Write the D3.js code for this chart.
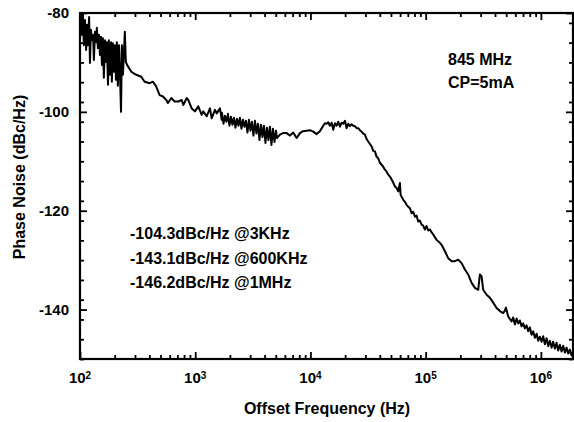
<!DOCTYPE html>
<html>
<head>
<meta charset="utf-8">
<script src="https://cdn.jsdelivr.net/npm/d3@7"></script>
<style>
  body { margin: 0; background: #fff; }
  text { font-family: "Liberation Sans", Arial, sans-serif; font-weight: bold; fill: #000; }
</style>
</head>
<body>
<script>
// offset frequency (Hz) and phase noise (dBc/Hz)
var freqHz = [
  100,102,104,106,108,110.5,113,115,117,120,122,124.5,127,130,132,135,138,140,143,146,
  149,152,155,158,161,165,168,171,175,178,182,186,189,193,197,201,205,209,213,218,
  222,227,231,236,241,245,250,
  256,279,308,340,364,402,430,459,491,525,561,580,620,663,713,763,788,843,870,932,
  995,1063,1138,1174,1257,1343,1389,1484,1535,1640,1697,
  1707,1759,1812,1867,1924,1983,2043,2105,2169,2235,2303,2373,2445,2519,2596,2675,
  2756,2840,2926,3015,3107,3201,3299,3400,3503,3610,3720,3833,3949,4070,4194,4322,
  4453,4588,4728,4872,5022,5122,
  5437,5773,6218,6640,7091,7592,8108,8607,9268,9901,10576,11319,12090,12916,13362,
  13822,14270,14764,15273,15770,16317,16879,17428,18030,18651,19257,19925,20613,21283,
  22018,22778,23520,24331,25171,25990,26888,
  27817,28722,29714,30739,31739,32835,33967,35072,36283,37536,38758,40091,41476,42826,
  44306,45836,47325,48960,50652,52300,54110,55975,57795,59780,60630,63880,66070,68350,
  70580,73010,75520,77980,80660,83450,86170,89150,92220,95210,98520,101920,105220,
  108870,112610,
  116280,124450,132930,137530,146890,156930,168000,179430,191610,205050,219040,233930,
  250400,267540,285770,295630,305830,315750,338040,360990,385620,412630,440900,470910,
  487210,497000,520400,556900,575000,594900,615400,635400,657400,680100,702200,726500,
  751500,775900,802700,830400,857400,887000,917700,947600,980200,1014000,
  1047000,1083000,1121000,1157000,1197000,1238000,1278000,1323000,1368000,1413000,
  1462000,1512000,1561000,1615000,1671000,1726000,1785000,1847000,1895000
];
var noiseDbc = [
  -85.5,-80,-84.4,-80,-86.5,-81.4,-87.5,-82.4,-86.5,-80.8,-90.1,-83.4,-85.5,-84.4,-89.5,-83.8,-85.9,-83.0,-87.1,-84.4,
  -88.5,-84.8,-90.5,-85.1,-93.1,-85.5,-89.9,-85.9,-94.5,-85.5,-92.5,-85.9,-93.9,-86.1,-91.9,-86.5,-93.5,-85.9,-94.7,-86.5,
  -91.9,-100,-86.5,-92.5,-87.5,-83.8,-89.9,
  -90.5,-91.9,-92.5,-92.9,-93.9,-94.2,-93.9,-94.9,-96.6,-96.9,-97.6,-98.2,-97.2,-97.9,-97.9,-97.6,-98.6,-97.2,-97.6,-99.3,
  -99.9,-98.9,-100.6,-99.9,-100.9,-99.3,-101.3,-99.6,-100.3,-99.3,-101.6,
  -100.2,-102.4,-100.8,-102.0,-100.4,-102.8,-101.0,-102.6,-101.2,-103.2,-101.4,-102.8,-101.2,-103.4,-101.6,-103.0,
  -101.8,-104.2,-101.6,-103.8,-102.0,-104.8,-101.8,-104.4,-102.4,-105.7,-102.6,-105.1,-102.8,-106.3,-103.2,-105.7,
  -103.0,-106.7,-103.4,-106.1,-103.8,-105.3,
  -104.6,-104.3,-104.3,-104.8,-104.2,-105.3,-104.3,-103.9,-103.8,-103.7,-104.0,-104.5,-103.9,-102.8,-102.3,
  -102.4,-102.1,-102.8,-102.2,-103.6,-102.3,-102.8,-102.0,-103.0,-102.2,-102.4,-101.8,-103.3,-102.4,
  -102.9,-102.5,-102.8,-102.9,-103.3,-103.3,-103.7,
  -104.0,-104.4,-104.6,-105.5,-106.0,-106.5,-107.0,-107.9,-108.0,-109.1,-109.4,-110.3,-110.7,-111.1,
  -111.7,-112.1,-112.7,-113.1,-113.7,-114.3,-115.1,-115.4,-116.1,-114.4,-116.8,-117.8,-118.2,-118.8,
  -119.2,-119.5,-120.5,-120.2,-121.2,-121.0,-122.2,-122.0,-122.8,-123.0,-123.8,-123.1,-124.0,
  -123.8,-124.4,
  -124.8,-125.9,-126.5,-126.9,-128.2,-129.6,-130.2,-130.2,-129.9,-130.6,-131.9,-132.9,
  -134.6,-135.6,-136.0,-132.9,-133.3,-136.0,-137.0,-137.6,-138.6,-139.7,-140.3,-140.7,
  -140.2,-139.6,-141.4,-142.4,-141.6,-143.0,-141.8,-142.8,-142.2,-143.4,-142.8,-143.8,
  -143.2,-144.4,-143.6,-145.1,-144.4,-145.7,-144.9,-146.3,-145.5,-146.5,
  -145.4,-147.0,-145.8,-147.4,-146.3,-147.7,-146.5,-147.9,-146.7,-148.3,
  -147.1,-148.5,-147.3,-148.7,-147.7,-148.9,-148.1,-149.3,-148.7
];

var xDomain = [100, 1.9e6];
var yDomain = [-150, -80];
var xDecades = [2, 3, 4, 5, 6];
var yMajor = [-80, -100, -120, -140];
var yMinorStep = 4;

var noteTop = ["845 MHz", "CP=5mA"];
var noteLeft = ["-104.3dBc/Hz @3KHz", "-143.1dBc/Hz @600KHz", "-146.2dBc/Hz @1MHz"];

var margin = {top: 13, right: 1, bottom: 63, left: 80},
    width = 574 - margin.left - margin.right,
    height = 422 - margin.top - margin.bottom;

var svg = d3.select("body").append("svg")
    .attr("width", 574)
    .attr("height", 422);

var g = svg.append("g")
    .attr("transform", "translate(" + margin.left + "," + margin.top + ")");

var x = d3.scaleLog().domain(xDomain).range([0, width]);
var y = d3.scaleLinear().domain(yDomain).range([height, 0]);

// tick values
var xMinor = [];
for (var p = 2; p <= 6; p++) {
  for (var m = 2; m <= 9; m++) {
    var v = m * Math.pow(10, p);
    if (v <= xDomain[1]) xMinor.push(v);
  }
}
var xMajorVals = xDecades.map(function(d) { return Math.pow(10, d); });
var yMinor = d3.range(yDomain[0], yDomain[1] + 0.1, yMinorStep)
    .filter(function(d) { return yMajor.indexOf(d) < 0; });

function styleAxis(sel) {
  sel.select(".domain").remove();
  sel.selectAll("line").attr("stroke", "#000").attr("stroke-width", 1.8);
  sel.selectAll("text").remove();
}

// inward ticks on all four sides
g.append("g").attr("transform", "translate(0," + height + ")")
  .call(d3.axisBottom(x).tickValues(xMajorVals).tickSize(-7)).call(styleAxis);
g.append("g").attr("transform", "translate(0," + height + ")")
  .call(d3.axisBottom(x).tickValues(xMinor).tickSize(-4)).call(styleAxis);
g.append("g")
  .call(d3.axisTop(x).tickValues(xMajorVals).tickSize(-7)).call(styleAxis);
g.append("g")
  .call(d3.axisTop(x).tickValues(xMinor).tickSize(-4)).call(styleAxis);
g.append("g")
  .call(d3.axisLeft(y).tickValues(yMajor).tickSize(-7)).call(styleAxis);
g.append("g")
  .call(d3.axisLeft(y).tickValues(yMinor).tickSize(-4)).call(styleAxis);
g.append("g").attr("transform", "translate(" + width + ",0)")
  .call(d3.axisRight(y).tickValues(yMajor).tickSize(-7)).call(styleAxis);
g.append("g").attr("transform", "translate(" + width + ",0)")
  .call(d3.axisRight(y).tickValues(yMinor).tickSize(-4)).call(styleAxis);

// frame
g.append("rect")
  .attr("width", width).attr("height", height)
  .attr("fill", "none").attr("stroke", "#000").attr("stroke-width", 2.2);

// curve
g.append("clipPath").attr("id", "clip")
  .append("rect").attr("width", width).attr("height", height);

var line = d3.line()
  .x(function(d, i) { return x(freqHz[i]); })
  .y(function(d) { return y(d); });

g.append("path")
  .datum(noiseDbc)
  .attr("clip-path", "url(#clip)")
  .attr("fill", "none")
  .attr("stroke", "#000")
  .attr("stroke-width", 2)
  .attr("stroke-linejoin", "round")
  .attr("d", line);

// tick labels
g.selectAll(".ylab").data(yMajor).enter().append("text")
  .attr("class", "ylab")
  .attr("x", -11).attr("y", function(d) { return y(d); })
  .attr("dy", "0.36em")
  .attr("text-anchor", "end")
  .style("font-size", "15px")
  .text(function(d) { return d; });

var xl = g.selectAll(".xlab").data(xDecades).enter().append("text")
  .attr("class", "xlab")
  .attr("x", function(d) { return x(Math.pow(10, d)); })
  .attr("y", height + 24)
  .attr("text-anchor", "middle")
  .style("font-size", "15px");
xl.append("tspan").text("10");
xl.append("tspan").attr("dy", "-0.45em").style("font-size", "10px")
  .text(function(d) { return d; });

// axis titles
svg.append("text")
  .attr("x", 327).attr("y", 414)
  .attr("text-anchor", "middle")
  .style("font-size", "16px")
  .text("Offset Frequency (Hz)");

svg.append("text")
  .attr("transform", "translate(25,177) rotate(-90)")
  .attr("text-anchor", "middle")
  .style("font-size", "16px")
  .text("Phase Noise (dBc/Hz)");

// notes
svg.selectAll(".nt").data(noteTop).enter().append("text")
  .attr("class", "nt")
  .attr("x", 448).attr("y", function(d, i) { return 65 + i * 23; })
  .style("font-size", "16px")
  .text(function(d) { return d; });

svg.selectAll(".nl").data(noteLeft).enter().append("text")
  .attr("class", "nl")
  .attr("x", 130).attr("y", function(d, i) { return 239 + i * 24.5; })
  .style("font-size", "16px")
  .text(function(d) { return d; });
</script>
</body>
</html>
